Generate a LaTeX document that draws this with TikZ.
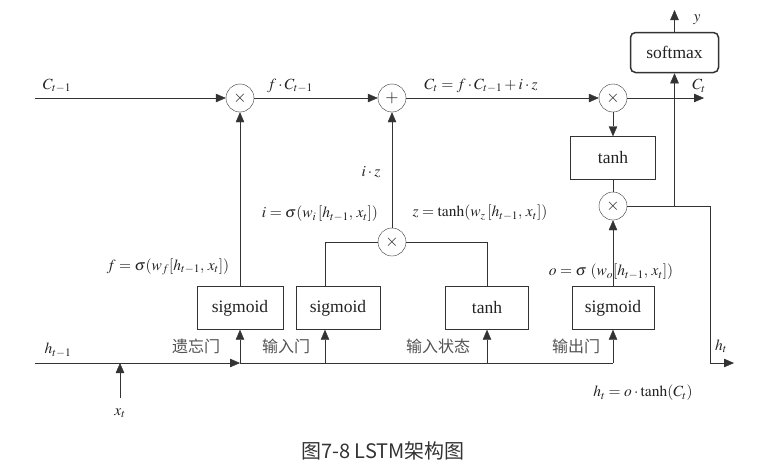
\documentclass[tikz,border=0pt]{standalone}
\usepackage{mathptmx}
\usepackage{fontspec}
\setmainfont{Liberation Serif}
\newfontfamily\cjk{Noto Sans CJK SC}
\usetikzlibrary{arrows.meta}
\definecolor{ln}{HTML}{333333}
\definecolor{tx}{HTML}{222222}
\tikzset{
  x=1pt, y=-1pt,
  line width=1.3pt,
  every node/.style={text=tx},
  wire/.style={draw=ln},
  arr/.style={draw=ln, -{Triangle[length=10pt,width=8.5pt]}},
  op/.style={circle, draw=ln, minimum size=28pt, inner sep=0pt, font=\fontsize{17}{17}\selectfont},
  box/.style={rectangle, draw=ln, minimum width=86pt, minimum height=43pt, inner sep=0pt, font=\fontsize{17.5}{20}\selectfont},
  mlab/.style={font=\fontsize{15.5}{17}\selectfont, inner sep=0pt},
  zlab/.style={font=\cjk\fontsize{16}{18}\selectfont, text=ln!85, inner sep=0pt},
}
\begin{document}
\begin{tikzpicture}
\useasboundingbox (0,0) rectangle (764,467);
% operators
\node[op] (m1) at (240,98) {$\times$};
\node[op] (p1) at (392,98) {$+$};
\node[op] (m3) at (613,98) {$\times$};
\node[op] (m4) at (613,206) {$\times$};
\node[op] (m2) at (392,242) {$\times$};
% boxes
\node[box, minimum width=85pt] (tanhc) at (613,158) {tanh};
\node[box, minimum width=88pt, minimum height=40pt, rounded corners=5pt, line width=1.5pt] (soft) at (674.5,52.5) {softmax};
\node[box] (sigf) at (240,308) {sigmoid};
\node[box, minimum width=84pt] (sigi) at (338,308) {sigmoid};
\node[box, minimum width=83pt] (tanhz) at (487,308) {tanh};
\node[box, minimum width=82pt] (sigo) at (613,308) {sigmoid};
% coordinates
\coordinate (cstart) at (35,98);
\coordinate (cend) at (704,98);
\coordinate (hstart) at (35,363);
\coordinate (hf) at (240,363);
\coordinate (hi) at (325,363);
\coordinate (hz) at (487,363);
\coordinate (ho) at (613,363);
\coordinate (hc1) at (710,206);
\coordinate (hc2) at (710,363);
\coordinate (hend) at (734,363);
\coordinate (yend) at (674.5,10);
\coordinate (xs) at (120,398);
% cell state line
\draw[arr] (cstart) -- (m1.west);
\draw[arr] (m1.east) -- (p1.west);
\draw[arr] (p1.east) -- (m3.west);
\draw[arr] (m3.east) -- (cend);
\draw[arr] (m3.south) -- (tanhc.north);
\draw[wire] (tanhc.south) -- (m4.north);
\draw[wire] (m4.east) -- (hc1) -- (hc2);
\draw[arr] (hc2) -- (hend);
\draw[arr] (m4.east -| soft.south) -- (soft.south);
\draw[arr] (soft.north) -- (yend);
% hidden line
\draw[arr] (hstart) -- (hf);
\draw[wire] (hf) -- (ho);
\draw[arr] (xs) -- (xs |- hf);
\draw[arr] (hf) -- (sigf.south);
\draw[arr] (hi) -- (hi |- sigi.south);
\draw[arr] (hz) -- (tanhz.south);
\draw[arr] (ho) -- (sigo.south);
\draw[arr] (sigf.north) -- (m1.south);
\draw[wire] (hi |- sigi.north) |- (m2.west);
\draw[wire] (tanhz.north) |- (m2.east);
\draw[arr] (m2.north) -- (p1.south);
\draw[arr] (sigo.north) -- (m4.south);
% math labels
\node[mlab] (lc0) at (57,86) {$C_{t-1}$};
\node[mlab] (lfc) at (290,86) {$f\cdot C_{t-1}$};
\node[mlab] (lct) at (481,86) {$C_t = f\cdot C_{t-1} + i\cdot z$};
\node[mlab] (lct2) at (699,86) {$C_t$};
\node[mlab] (ly) at (697,20) {$y$};
\node[mlab] (liz) at (371,172) {$i\cdot z$};
\node[mlab] (li) at (320,214) {$i = \sigma(w_i\,[h_{t-1},\,x_t])$};
\node[mlab] (lz) at (480,213) {$z = \tanh(w_z\,[h_{t-1},\,x_t])$};
\node[mlab] (lf) at (168,267) {$f = \sigma(w_f[h_{t-1},\,x_t])$};
\node[mlab] (lo) at (611,272) {$o = \sigma\ (w_o[h_{t-1},\,x_t])$};
\node[mlab] (lht) at (643,393) {$h_t = o\cdot \tanh(C_t)$};
\node[mlab] (lh0) at (58,350) {$h_{t-1}$};
\node[mlab] (lh1) at (721,346) {$h_t$};
\node[mlab] (lx) at (120,413) {$x_t$};
% chinese labels
\node[zlab] (g1) at (196,346) {遗忘门};
\node[zlab] (g2) at (286,346) {输入门};
\node[zlab] (g3) at (438,346) {输入状态};
\node[zlab] (g4) at (576,346) {输出门};
% caption
\node[font=\cjk\fontsize{20}{22}\selectfont, text=ln, inner sep=0pt] (cap) at (383,451) {图7-8 LSTM架构图};
\end{tikzpicture}
\end{document}
